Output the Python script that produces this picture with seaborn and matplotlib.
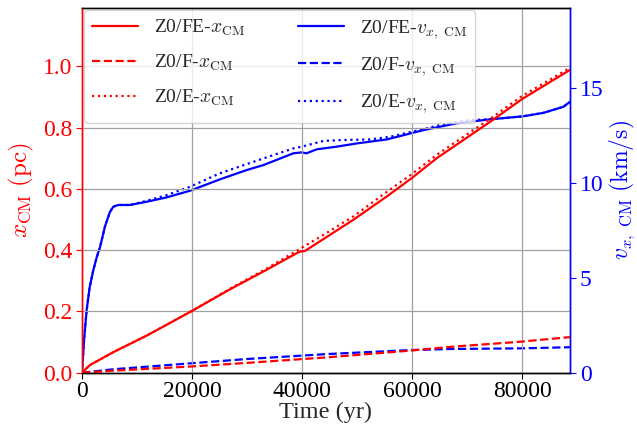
import numpy as np
import pandas as pd
import matplotlib
matplotlib.use("Agg")
import matplotlib.pyplot as plt
import seaborn as sns

# ---------------- data ----------------
t_fe_x = [0, 1450, 5700, 11760, 19640, 26900, 33580, 39030, 39640, 40500, 45100,
          49330, 55400, 59950, 64490, 74780, 80000, 88700]
x_fe = [0, 0.025, 0.067, 0.121, 0.198, 0.272, 0.336, 0.39, 0.395, 0.397, 0.45,
        0.499, 0.575, 0.635, 0.70, 0.826, 0.893, 0.988]

t_f_x = [0, 5700, 19640, 30000, 44500, 59640, 67500, 79640, 88700]
x_f = [0, 0.0065, 0.02, 0.032, 0.05, 0.072, 0.085, 0.101, 0.116]

t_e_x = [0, 1450, 5700, 11760, 19640, 26900, 33580, 39030, 43270, 49330, 55400,
         59950, 64490, 74780, 80000, 88700]
x_e = [0, 0.025, 0.067, 0.121, 0.198, 0.274, 0.34, 0.398, 0.443, 0.51, 0.59,
       0.648, 0.711, 0.836, 0.903, 0.995]

t_fe_v = [0, 400, 850, 1400, 2060, 2700, 3270, 4180, 5090, 5700, 6600, 8730,
          11760, 15400, 19640, 25090, 29950, 32970, 38420, 39940, 40800, 42670,
          46300, 49950, 55400, 62050, 68100, 74180, 80240, 83870, 87500, 88700]
v_fe = [0, 1.8, 3.3, 4.5, 5.4, 6.1, 6.6, 7.7, 8.47, 8.74, 8.83, 8.83,
        9.0, 9.23, 9.58, 10.18, 10.67, 10.93, 11.55, 11.6, 11.55, 11.76,
        11.9, 12.07, 12.28, 12.77, 13.13, 13.34, 13.5, 13.68, 14.0, 14.26]

t_f_v = [0, 5700, 19640, 30000, 44500, 59640, 67500, 79640, 88700]
v_f = [0, 0.18, 0.49, 0.72, 0.98, 1.19, 1.25, 1.28, 1.34]

t_e_v = [0, 400, 850, 1400, 2060, 2700, 3270, 4180, 5090, 5700, 6600, 8730,
         11760, 15400, 19640, 25090, 32970, 38420, 39940, 43870, 47500, 52360,
         56000, 62050, 66000, 70550, 74180, 80240, 83870, 87500, 88700]
v_e = [0, 1.8, 3.3, 4.5, 5.4, 6.1, 6.6, 7.7, 8.47, 8.74, 8.83, 8.83,
       9.05, 9.35, 9.79, 10.5, 11.28, 11.81, 11.9, 12.2, 12.25, 12.28,
       12.42, 12.82, 13.1, 13.3, 13.34, 13.5, 13.68, 14.0, 14.26]

x_ticks = [0, 20000, 40000, 60000, 80000]
x_ticks_left = [0.0, 0.2, 0.4, 0.6, 0.8, 1.0]
v_ticks_right = [0, 5, 10, 15]

# ---------------- style ----------------
sns.set_style("ticks")
plt.rcParams["font.family"] = ["Liberation Serif", "DejaVu Serif"]
plt.rcParams["mathtext.fontset"] = "cm"
plt.rcParams["axes.unicode_minus"] = False

fig = plt.figure(figsize=(6.37, 4.33), dpi=100)
ax = fig.add_axes([0.1287, 0.1393, 0.7661, 0.8422])
ax2 = ax.twinx()
ax.set_zorder(ax2.get_zorder() + 1)
ax.patch.set_visible(False)

lw = 1.6
red = "#ff0000"
blue = "#0000ff"

def draw(axis, t, y, color, ls, label):
    df = pd.DataFrame({"t": t, "y": y})
    sns.lineplot(data=df, x="t", y="y", ax=axis, color=color, linestyle=ls,
                 linewidth=lw, label=label, estimator=None, sort=False, legend=False)

draw(ax, t_fe_x, x_fe, red, "-", r"Z0/FE-$x_{\rm CM}$")
draw(ax, t_f_x, x_f, red, "--", r"Z0/F-$x_{\rm CM}$")
draw(ax, t_e_x, x_e, red, ":", r"Z0/E-$x_{\rm CM}$")
draw(ax2, t_fe_v, v_fe, blue, "-", r"Z0/FE-$v_{x,\ \rm CM}$")
draw(ax2, t_f_v, v_f, blue, "--", r"Z0/F-$v_{x,\ \rm CM}$")
draw(ax2, t_e_v, v_e, blue, ":", r"Z0/E-$v_{x,\ \rm CM}$")

ax.set_xlim(0, 88700)
ax.set_ylim(0, 1.19)
ax2.set_ylim(0, 19.2)
ax.set_xticks(x_ticks)
ax.set_yticks(x_ticks_left)
ax.set_yticklabels([f"{v:.1f}" for v in x_ticks_left])
ax2.set_yticks(v_ticks_right)

ax.grid(True, color="#a0a0a0", linewidth=0.9)
ax2.grid(False)

ax.tick_params(axis="x", labelsize=17, colors="black", length=4, pad=2)
ax.tick_params(axis="y", labelsize=17, colors=red, length=4, pad=3)
ax2.tick_params(axis="y", labelsize=17, colors=blue, length=4, pad=3)

for a in (ax, ax2):
    a.spines["left"].set_color(red)
    a.spines["right"].set_color(blue)
    a.spines["top"].set_color("black")
    a.spines["bottom"].set_color("black")
    for s in a.spines.values():
        s.set_linewidth(1.0)

ax.set_xlabel("Time (yr)", fontsize=17.5, labelpad=0)
ax.set_ylabel(r"$x_{\rm CM}\ ({\rm pc})$", fontsize=18, color=red, labelpad=5)
ax2.set_ylabel(r"$v_{x,\ \rm CM}\ ({\rm km/s})$", fontsize=17, color=blue, labelpad=3)

h1, l1 = ax.get_legend_handles_labels()
h2, l2 = ax2.get_legend_handles_labels()
ax.legend(h1 + h2, l1 + l2, loc="upper left", ncol=2, fontsize=14,
          handlelength=2.4, columnspacing=2.7, labelspacing=0.75,
          framealpha=0.8, borderaxespad=0.1)

fig.savefig("out.png", dpi=100)
